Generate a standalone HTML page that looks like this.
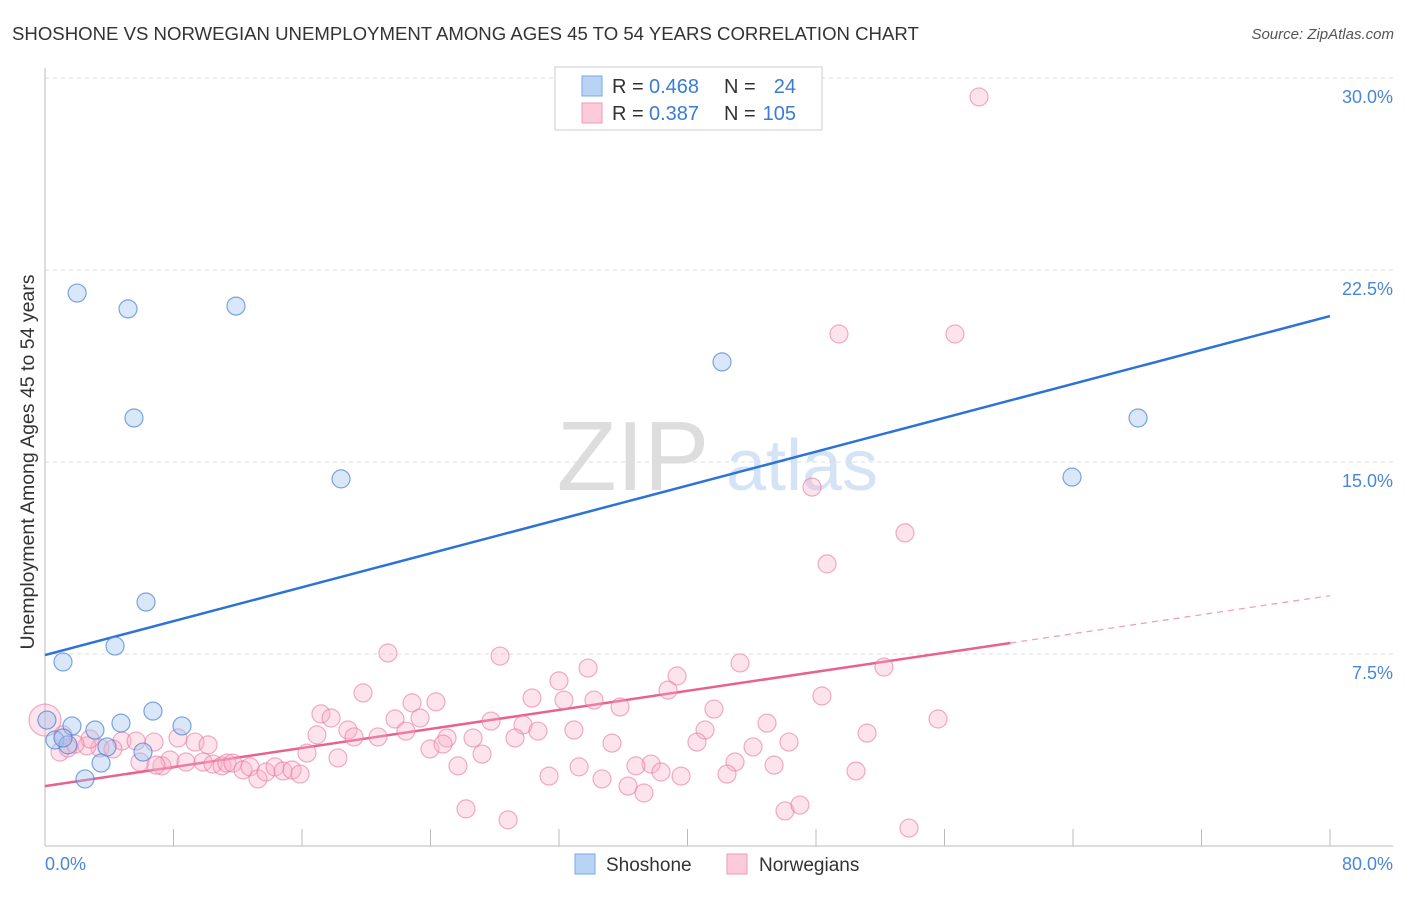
<!DOCTYPE html>
<html><head><meta charset="utf-8"><style>
body{margin:0;background:#fff;font-family:"Liberation Sans",sans-serif;}
svg text{font-family:"Liberation Sans",sans-serif;}
</style></head><body>
<svg width="1406" height="892" xmlns="http://www.w3.org/2000/svg" id="chart">
<text x="12" y="40" font-size="18.6" fill="#333">SHOSHONE VS NORWEGIAN UNEMPLOYMENT AMONG AGES 45 TO 54 YEARS CORRELATION CHART</text>
<text x="1394" y="39" font-size="15" fill="#555" font-style="italic" text-anchor="end">Source: ZipAtlas.com</text>
<g>
<text x="633" y="490" font-size="98" fill="#ddd" font-family="Liberation Serif" text-anchor="middle">ZIP</text>
<text x="802" y="490" font-size="72" fill="#d4e3f5" text-anchor="middle">atlas</text>
</g>
<g id="grid"></g>
<g id="axes"></g>
<g id="lines"></g>
<g id="pts"></g>
<text x="28" y="456" font-size="19.5" fill="#333" text-anchor="middle" transform="rotate(-90 34 456)">Unemployment Among Ages 45 to 54 years</text>
<text x="45" y="870" font-size="18" fill="#4a86d8">0.0%</text>
<text x="1393" y="870" font-size="18" fill="#4a86d8" text-anchor="end">80.0%</text>
<g>
<rect x="555" y="67" width="267" height="63" fill="#fff" stroke="#ccc"/>
<rect x="582" y="76" width="20" height="20" fill="#b9d3f5" stroke="#7aa7e6"/>
<rect x="582" y="103" width="20" height="20" fill="#fccbd9" stroke="#f099b6"/>
<text x="612" y="93" font-size="20" fill="#333">R =</text>
<text x="649" y="93" font-size="20" fill="#3a7bd5">0.468</text>
<text x="724" y="93" font-size="20" fill="#333">N =</text>
<text x="796" y="93" font-size="20" fill="#3a7bd5" text-anchor="end">24</text>
<text x="612" y="120" font-size="20" fill="#333">R =</text>
<text x="649" y="120" font-size="20" fill="#3a7bd5">0.387</text>
<text x="724" y="120" font-size="20" fill="#333">N =</text>
<text x="796" y="120" font-size="20" fill="#3a7bd5" text-anchor="end">105</text>
</g>
<g>
<rect x="575" y="854" width="20" height="20" fill="#b9d3f5" stroke="#7aa7e6"/>
<text x="606" y="871" font-size="19" fill="#333">Shoshone</text>
<rect x="727" y="854" width="20" height="20" fill="#fccbd9" stroke="#f099b6"/>
<text x="759" y="871" font-size="19" fill="#333">Norwegians</text>
</g>
</svg>
<script>
const yTicks=[7.5,15,22.5,30];
const yTickLabels=["7.5%","15.0%","22.5%","30.0%"];
const xTicks=[0,8,16,24,32,40,48,56,64,72,80];
const blueX=[2.0,5.17,11.89,5.54,18.43,42.15,68.05,63.94,6.29,1.12,4.36,6.72,8.53,4.73,3.11,1.68,0.62,1.43,1.12,3.86,3.49,2.49,6.1,0.12];
const blueY=[21.6,20.98,21.09,16.72,14.34,18.91,16.72,14.41,9.53,7.19,7.81,5.27,4.69,4.8,4.53,4.69,4.14,3.95,4.22,3.87,3.24,2.62,3.67,4.92];
const pinkX=[58.15,49.43,56.65,47.75,53.54,48.69,21.35,28.33,43.27,33.81,39.35,52.23,32.0,38.79,48.37,19.8,30.32,34.18,22.85,24.34,32.31,35.8,41.65,17.18,17.81,27.77,29.76,55.6,44.95,23.35,21.79,18.86,41.09,30.69,32.93,16.93,19.24,20.73,22.47,25.03,26.65,29.26,51.18,35.3,40.59,44.08,46.32,23.97,24.78,27.21,18.24,16.31,7.78,6.79,9.34,8.28,10.15,4.79,3.42,4.23,2.61,5.67,1.12,0.93,0,25.71,33.25,37.73,36.79,42.96,45.39,31.38,34.68,36.3,38.35,39.6,42.46,50.49,37.29,26.21,28.83,46.07,47.0,53.79,5.91,7.28,8.78,9.84,10.46,11.02,11.33,11.7,12.33,12.76,13.26,13.76,14.32,14.82,15.38,15.88,6.91,2.8,1.87,1.43];
const pinkY=[29.26,20.0,20.0,14.02,12.23,11.02,7.54,7.42,7.15,6.95,6.64,6.99,6.45,6.09,5.86,5.98,5.78,5.7,5.59,5.63,5.7,5.43,5.35,5.16,5.0,4.88,4.73,4.96,4.8,5.0,4.96,4.53,4.53,4.49,4.53,4.34,4.26,4.26,4.49,4.22,4.22,4.22,4.41,4.02,4.06,3.87,4.06,3.79,3.98,3.59,3.44,3.63,3.36,4.06,4.06,4.22,3.95,4.1,3.83,3.79,3.91,4.1,4.34,3.67,4.92,3.13,3.09,3.2,3.13,3.28,3.16,2.73,2.62,2.34,2.89,2.73,2.81,2.93,2.07,1.45,1.02,1.37,1.6,0.7,3.28,3.13,3.28,3.28,3.2,3.13,3.24,3.24,2.97,3.09,2.62,2.89,3.09,2.93,2.97,2.81,3.16,4.18,3.98,3.83];
const blueLine=[7.46,20.7];
const pinkLine=[2.34,9.78];
const pinkSolidEnd=60.1;

const NS="http://www.w3.org/2000/svg";
const X0=45,X1=1330,Y0=846,YPX=25.6;
const sx=v=>X0+v*(X1-X0)/80;
const sy=v=>Y0-v*YPX;
function mk(tag,attrs,parent){const e=document.createElementNS(NS,tag);for(const k in attrs)e.setAttribute(k,attrs[k]);document.getElementById(parent).appendChild(e);return e;}
yTicks.forEach((t,i)=>{
  const l=mk('line',{x1:X0,x2:1393,y1:sy(t),y2:sy(t),stroke:'#ddd','stroke-dasharray':'4 4'},'grid');
  
  
  const tx=mk('text',{x:1393,y:sy(t)+25,'font-size':18,fill:'#4a86d8','text-anchor':'end'},'grid');
  tx.textContent=yTickLabels[i];
  
  
});
const ax=mk('line',{x1:X0,x2:X0,y1:68,y2:Y0,stroke:'#bbb'},'axes');


const bx=mk('line',{x1:X0,x2:1393,y1:Y0,y2:Y0,stroke:'#bbb'},'axes');


xTicks.forEach(t=>{
  const l=mk('line',{x1:sx(t),x2:sx(t),y1:829,y2:Y0,stroke:'#bbb'},'axes');
  
  
});
function dot(x,y,fill,stroke,name,r){
  const c=mk('circle',{cx:sx(x),cy:sy(y),r:r||9,fill:fill,stroke:stroke,'stroke-width':1.2},'pts');
  
  
}
pinkX.forEach((x,i)=>dot(x,pinkY[i],'rgba(248,175,198,0.35)','rgba(232,120,160,0.6)','norwegian-point',(x===0?16:9)));
blueX.forEach((x,i)=>dot(x,blueY[i],'rgba(160,196,240,0.4)','rgba(70,130,215,0.7)','shoshone-point'));
const bl=mk('line',{x1:sx(0),y1:sy(blueLine[0]),x2:sx(80),y2:sy(blueLine[1]),stroke:'#2d72d6','stroke-width':2.5},'lines');


const pm=(pinkLine[1]-pinkLine[0])/80;
const pl=mk('line',{x1:sx(0),y1:sy(pinkLine[0]),x2:sx(pinkSolidEnd),y2:sy(pinkLine[0]+pm*pinkSolidEnd),stroke:'#e8628f','stroke-width':2.5},'lines');


const pd=mk('line',{x1:sx(pinkSolidEnd),y1:sy(pinkLine[0]+pm*pinkSolidEnd),x2:sx(80),y2:sy(pinkLine[1]),stroke:'#f0a0ba','stroke-width':1.3,'stroke-dasharray':'6 5'},'lines');


</script>
</body></html>
